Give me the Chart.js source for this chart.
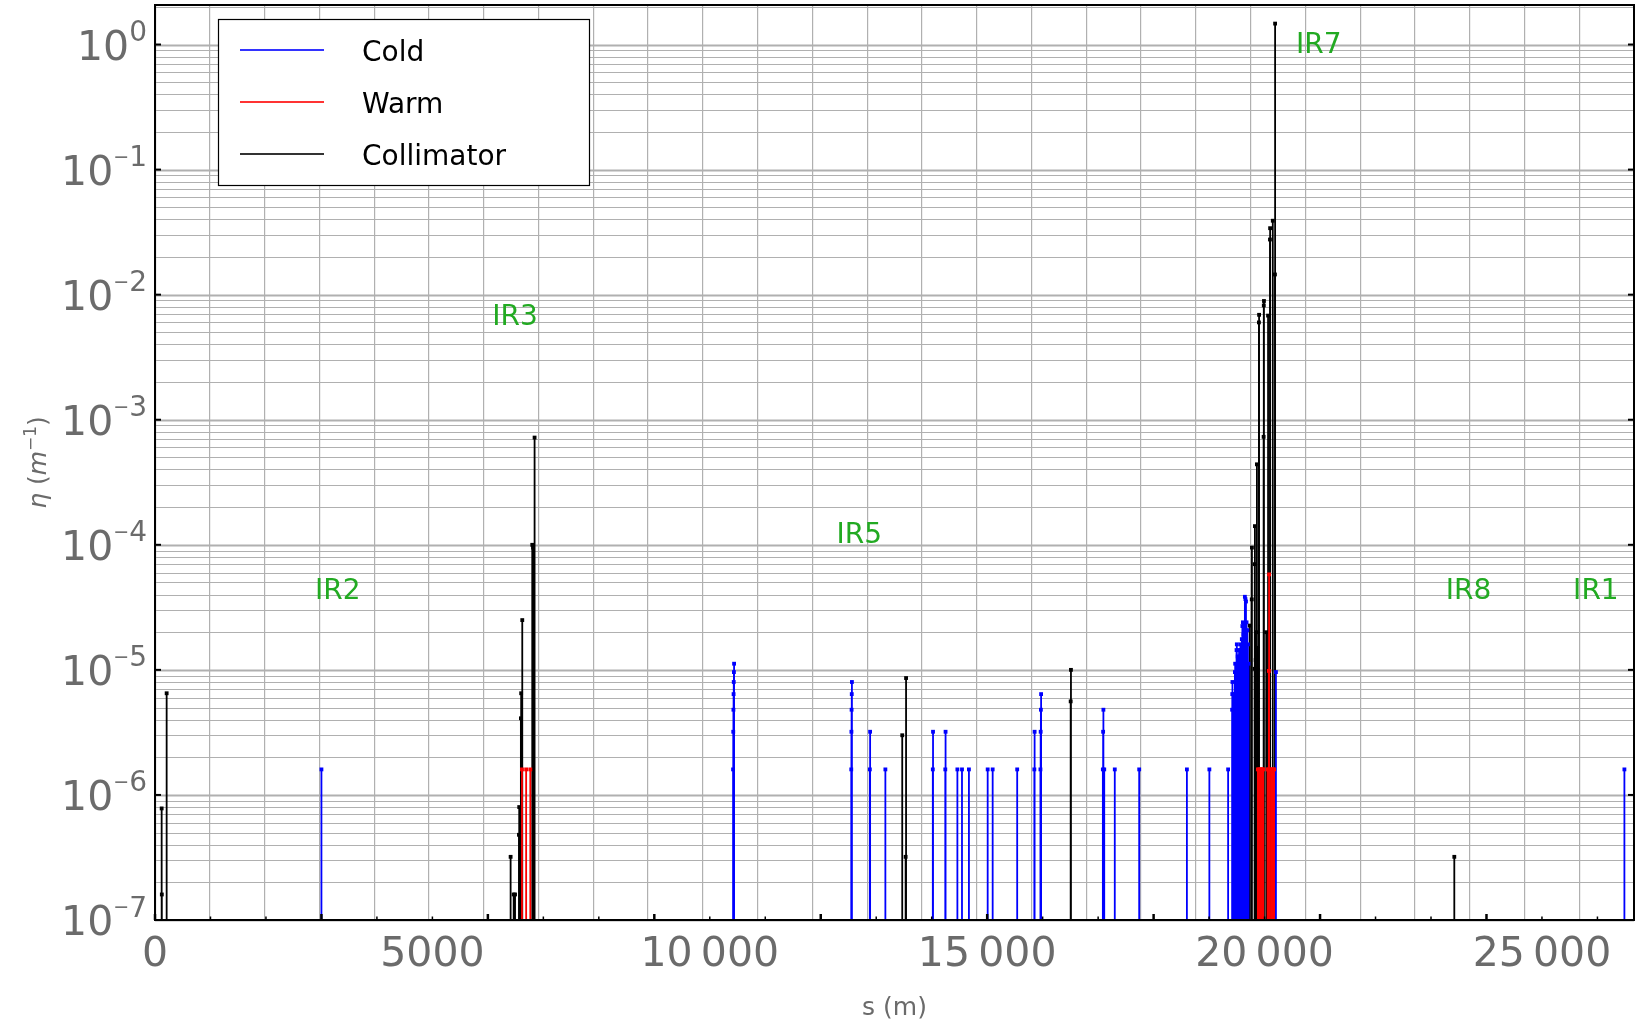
<!DOCTYPE html>
<html>
<head>
<meta charset="utf-8">
<script src="https://cdn.jsdelivr.net/npm/chart.js@4.4.1/dist/chart.umd.min.js"></script>
<style>
html,body{margin:0;padding:0;background:#ffffff;}
#wrap{width:1636px;height:1022px;position:relative;}
</style>
</head>
<body>
<div id="wrap"><canvas id="c" width="1636" height="1022"></canvas></div>
<script>
// ---------------- data ----------------
const seriesNames = ['Cold', 'Warm', 'Collimator'];

const coldS = [3000,
  10420, 10423, 10426, 10429, 10432, 10435, 10438,
  12550, 12553, 12556, 12559, 12562,
  12885, 12890, 13165,
  14020, 14024, 14245, 14250, 14463, 14546, 14671,
  15009, 15099, 15541, 15850, 15855, 15960, 15964, 15968, 15972,
  17085, 17090, 17095, 17110, 17300, 17740, 18600, 19005, 19343,
  19415, 19418, 19421, 19440, 19445, 19465, 19470, 19480, 19495, 19500,
  19515, 19525, 19540, 19550, 19565, 19575, 19590, 19600, 19610, 19620,
  19630, 19645, 19655, 19665, 19675, 19690, 19700, 19710,
  20205, 26486];
const coldV = [1.6e-6,
  1.6e-6, 3.2e-6, 4.8e-6, 6.4e-6, 8.0e-6, 9.6e-6, 1.12e-5,
  1.6e-6, 3.2e-6, 4.8e-6, 6.4e-6, 8.0e-6,
  1.6e-6, 3.2e-6, 1.6e-6,
  1.6e-6, 3.2e-6, 1.6e-6, 3.2e-6, 1.6e-6, 1.6e-6, 1.6e-6,
  1.6e-6, 1.6e-6, 1.6e-6, 1.6e-6, 3.2e-6, 1.6e-6, 3.2e-6, 4.8e-6, 6.4e-6,
  1.6e-6, 3.2e-6, 4.8e-6, 1.6e-6, 1.6e-6, 1.6e-6, 1.6e-6, 1.6e-6, 1.6e-6,
  4.8e-6, 6.4e-6, 8.0e-6, 6.4e-6, 4.8e-6, 9.6e-6, 1.12e-5, 8.0e-6, 1.44e-5, 1.6e-5,
  1.28e-5, 1.12e-5, 1.44e-5, 1.28e-5, 1.6e-5, 1.44e-5, 1.76e-5, 2.24e-5, 2.4e-5, 1.92e-5,
  2.24e-5, 3.84e-5, 3.68e-5, 3.52e-5, 2.4e-5, 2.08e-5, 1.6e-5, 1.12e-5,
  9.6e-6, 1.6e-6];

const warmS = [6615, 6690, 6765,
  19880, 19900, 19920, 19940, 19960, 19975,
  20055, 20070, 20078, 20082, 20115, 20135, 20155, 20172];
const warmV = [1.6e-6, 1.6e-6, 1.6e-6,
  1.6e-6, 1.6e-6, 1.6e-6, 1.6e-6, 1.6e-6, 1.6e-6,
  1.6e-6, 1.6e-6, 9.8e-6, 5.8e-5, 1.6e-6, 1.6e-6, 1.6e-6, 1.6e-6];

const collS = [120, 123, 210,
  6410, 6465, 6490, 6560, 6565, 6595, 6600, 6620, 6800, 6815, 6842,
  13469, 13530, 13538, 16505, 16510,
  19733, 19769, 19772, 19820, 19823, 19826, 19840, 19850, 19862, 19870,
  19898, 19901, 19983, 19986, 19989, 20030, 20063, 20097, 20100, 20148, 20187, 20190,
  23420];
const collV = [7.8e-7, 1.6e-7, 6.5e-6,
  3.2e-7, 1.6e-7, 1.6e-7, 4.8e-7, 8.0e-7, 4.1e-6, 6.5e-6, 2.5e-5, 1.0e-4, 9.5e-5, 7.2e-4,
  3.0e-6, 3.2e-7, 8.6e-6, 5.6e-6, 1.0e-5,
  2.26e-5, 3.66e-5, 9.5e-5, 1.02e-5, 7.0e-5, 1.41e-4, 1.2e-5, 2.0e-5, 4.4e-4, 1.5e-5,
  6.0e-3, 6.9e-3, 7.3e-4, 8.2e-3, 8.9e-3, 2.0e-5, 6.8e-3, 2.76e-2, 3.4e-2, 3.9e-2, 1.45e-2, 1.47,
  3.2e-7];

const xTickValues = [0, 5000, 10000, 15000, 20000, 25000];
const yTickExponents = [0, -1, -2, -3, -4, -5, -6, -7];
const irNames = ['IR2', 'IR3', 'IR5', 'IR7', 'IR8', 'IR1'];
const irS = [3295, 6491, 12694, 20976, 23676, 25972];
const irV = [4.5e-5, 6.9e-3, 1.25e-4, 1.04, 4.5e-5, 4.5e-5];

const S_MIN = 0, S_MAX = 26659;
const Y_MIN = 1e-7, Y_MAX = 2.07;

// ---------------- build stems ----------------
function stems(S, V) {
  const pts = [];
  S.forEach((s, i) => {
    pts.push({x: s, y: Y_MIN, top: false});
    pts.push({x: s, y: V[i], top: true});
    pts.push({x: s, y: null, top: false});
  });
  return pts;
}
const colors = ['#0000ff', '#ff0000', '#000000'];
const drawOrder = [2, 1, 3]; // lower = drawn on top
const allS = [coldS, warmS, collS];
const allV = [coldV, warmV, collV];

const datasets = seriesNames.map((name, i) => ({
  label: name,
  data: stems(allS[i], allV[i]),
  borderColor: colors[i],
  backgroundColor: colors[i],
  borderWidth: 1.8,
  pointStyle: 'rect',
  pointRadius: ctx => (ctx.raw && ctx.raw.top) ? 2.7 : 0,
  pointBorderWidth: 0,
  pointBackgroundColor: colors[i],
  spanGaps: false,
  tension: 0,
  order: drawOrder[i]
}));

const GRID = '#b0b0b0';
const TXT = '#6b6b6b';
const FONT = '"DejaVu Sans", sans-serif';

function fmtThousands(v) {
  if (v < 10000) return String(v);
  const s = String(v);
  return s.slice(0, s.length - 3) + '\u2009' + s.slice(s.length - 3);
}

const decor = {
  id: 'decor',
  beforeDatasetsDraw(chart) {
    const {ctx, chartArea: a, scales: {y}} = chart;
    ctx.save();
    ctx.strokeStyle = GRID;
    for (let e = -7; e <= 0; e++) {
      for (let k = 1; k <= 9; k++) {
        const v = k * Math.pow(10, e);
        if (v < Y_MIN || v > Y_MAX) continue;
        const py = Math.round(y.getPixelForValue(v)) + 0.5;
        ctx.lineWidth = k === 1 ? 2 : 1.2;
        ctx.beginPath(); ctx.moveTo(a.left, py); ctx.lineTo(a.right, py); ctx.stroke();
      }
    }
    ctx.restore();
  },
  afterDraw(chart) {
    const {ctx, chartArea: a, scales: {x, y}} = chart;
    ctx.save();
    // inward ticks
    ctx.strokeStyle = '#000';
    for (let s = 0; s <= S_MAX; s += 1000) {
      const px = x.getPixelForValue(s);
      const major = s % 3000 === 0;
      ctx.lineWidth = major ? 2.5 : 1.5;
      ctx.beginPath(); ctx.moveTo(px, a.bottom); ctx.lineTo(px, a.bottom - (major ? 6 : 3.5)); ctx.stroke();
    }
    yTickExponents.forEach(e => {
      const py = y.getPixelForValue(Math.pow(10, e));
      ctx.lineWidth = 2;
      ctx.beginPath(); ctx.moveTo(a.left, py); ctx.lineTo(a.left + 6, py); ctx.stroke();
      ctx.beginPath(); ctx.moveTo(a.right, py); ctx.lineTo(a.right - 6, py); ctx.stroke();
    });
    // spines
    ctx.lineWidth = 2;
    ctx.strokeRect(a.left, a.top, a.right - a.left, a.bottom - a.top);

    // x tick labels
    ctx.fillStyle = TXT;
    ctx.font = '41px ' + FONT;
    ctx.textAlign = 'center';
    ctx.textBaseline = 'alphabetic';
    xTickValues.forEach(v => {
      ctx.fillText(fmtThousands(v), x.getPixelForValue(v), a.bottom + 46);
    });

    // y tick labels 10^e
    ctx.textAlign = 'left';
    ctx.textBaseline = 'alphabetic';
    yTickExponents.forEach(e => {
      const py = y.getPixelForValue(Math.pow(10, e));
      ctx.font = '41px ' + FONT;
      const wBase = ctx.measureText('10').width;
      const digits = String(Math.abs(e));
      ctx.font = '28px ' + FONT;
      const wDig = ctx.measureText(digits).width;
      ctx.font = '19px ' + FONT;
      const wMin = e < 0 ? ctx.measureText('\u2212').width : 0;
      const right = a.left - 8;
      let xx = right - (wBase + wMin + wDig);
      ctx.font = '41px ' + FONT;
      ctx.fillText('10', xx, py + 15);
      xx += wBase;
      if (e < 0) {
        ctx.font = '19px ' + FONT;
        ctx.fillText('\u2212', xx, py - 7);
        xx += wMin;
      }
      ctx.font = '28px ' + FONT;
      ctx.fillText(digits, xx, py - 3.5);
    });

    // x title
    ctx.font = '25px ' + FONT;
    ctx.textAlign = 'center';
    ctx.textBaseline = 'alphabetic';
    ctx.fillText('s (m)', (a.left + a.right) / 2, 1015);

    // y title (rotated)
    ctx.save();
    ctx.translate(37, (a.top + a.bottom) / 2);
    ctx.rotate(-Math.PI / 2);
    ctx.textBaseline = 'alphabetic';
    ctx.textAlign = 'left';
    const parts = [
      {t: '\u03b7', f: 'italic 25px ' + FONT, dy: 0},
      {t: ' (', f: '25px ' + FONT, dy: 0},
      {t: 'm', f: 'italic 25px ' + FONT, dy: 0},
      {t: '\u22121', f: '17px ' + FONT, dy: -10},
      {t: ')', f: '25px ' + FONT, dy: 0}
    ];
    let tot = 0;
    parts.forEach(p => { ctx.font = p.f; p.w = ctx.measureText(p.t).width; tot += p.w; });
    let px0 = -tot / 2;
    parts.forEach(p => { ctx.font = p.f; ctx.fillText(p.t, px0, 9 + p.dy); px0 += p.w; });
    ctx.restore();

    // IR labels
    ctx.fillStyle = '#22aa22';
    ctx.font = '28px ' + FONT;
    ctx.textAlign = 'center';
    ctx.textBaseline = 'alphabetic';
    irNames.forEach((n, i) => {
      ctx.fillText(n, x.getPixelForValue(irS[i]), y.getPixelForValue(irV[i]) + 10.5);
    });

    // legend
    const lx = 218, ly = 19, lw = 371, lh = 166;
    ctx.fillStyle = '#ffffff';
    ctx.fillRect(lx, ly, lw, lh);
    ctx.strokeStyle = '#000';
    ctx.lineWidth = 1.2;
    ctx.strokeRect(lx + 0.5, ly + 0.5, lw, lh);
    ctx.font = '28px ' + FONT;
    ctx.textAlign = 'left';
    ctx.textBaseline = 'alphabetic';
    chart.data.datasets.forEach((ds, i) => {
      const yy = 50 + i * 52;
      ctx.strokeStyle = ds.borderColor;
      ctx.globalAlpha = 0.8;
      ctx.lineWidth = 2;
      ctx.beginPath(); ctx.moveTo(240, yy); ctx.lineTo(324, yy); ctx.stroke();
      ctx.globalAlpha = 1;
      ctx.fillStyle = '#000';
      ctx.fillText(ds.label, 362, yy + 10.5);
    });
    ctx.restore();
  }
};

new Chart(document.getElementById('c'), {
  type: 'line',
  data: {datasets},
  options: {
    responsive: false,
    animation: false,
    events: [],
    layout: {padding: {left: 0, right: 2, top: 5, bottom: 0}},
    plugins: {legend: {display: false}, tooltip: {enabled: false}},
    scales: {
      x: {
        type: 'linear', min: S_MIN, max: S_MAX,
        border: {display: false},
        ticks: {stepSize: 1000, display: false, autoSkip: false},
        grid: {
          color: GRID, drawTicks: false,
          lineWidth: ctx => (ctx.tick && ctx.tick.value % 3000 === 0) ? 2.2 : 1.2
        },
        afterFit: s => { s.height = 102; }
      },
      y: {
        type: 'logarithmic', min: Y_MIN, max: Y_MAX,
        border: {display: false},
        ticks: {display: false},
        grid: {display: false},
        afterFit: s => { s.width = 155; }
      }
    }
  },
  plugins: [decor]
});
</script>
</body>
</html>
